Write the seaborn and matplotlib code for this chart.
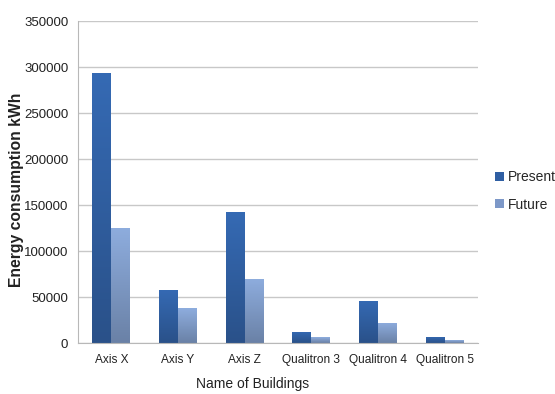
import numpy as np
import pandas as pd
import matplotlib
matplotlib.use("Agg")
import matplotlib.pyplot as plt
from matplotlib.colors import LinearSegmentedColormap
from matplotlib.patches import Patch
import seaborn as sns

buildings = ["Axis X", "Axis Y", "Axis Z", "Qualitron 3", "Qualitron 4", "Qualitron 5"]
present = [294000, 58000, 142000, 12000, 46000, 7000]
future = [125000, 38000, 70000, 6000, 22000, 3000]
series = ["Present", "Future"]
y_ticks = [0, 50000, 100000, 150000, 200000, 250000, 300000, 350000]

df = pd.DataFrame({
    "Building": buildings * 2,
    "Energy": present + future,
    "Series": [series[0]] * len(buildings) + [series[1]] * len(buildings),
})

sns.set_style("white")
plt.rcParams["font.family"] = ["Liberation Sans", "DejaVu Sans"]

# top / bottom colours of the vertical gradient for each series
grad = {
    "Present": ("#356AB4", "#2A5189"),
    "Future": ("#8EADDE", "#6A81A6"),
}
flat = {"Present": "#2F5FA3", "Future": "#7D98C8"}

fig = plt.figure(figsize=(5.55, 3.94), dpi=100)
ax = fig.add_axes([0.1405, 0.1294, 0.7205, 0.8173])

sns.barplot(data=df, x="Building", y="Energy", hue="Series", order=buildings,
            hue_order=series, palette=flat, width=0.57, ax=ax, legend=False,
            edgecolor="none", linewidth=0)

ax.set_yticks(y_ticks)
ax.set_yticklabels([str(v) for v in y_ticks])
ax.yaxis.grid(True, color="#C8C8C8", linewidth=1)
ax.set_axisbelow(True)

# replace flat fills with vertical gradients
n = len(buildings)
for i, patch in enumerate(ax.patches[: 2 * n]):
    s = series[i // n]
    top_c, bot_c = grad[s]
    cmap = LinearSegmentedColormap.from_list(s, [bot_c, top_c])
    x0, y0 = patch.get_x(), patch.get_y()
    w, h = patch.get_width(), patch.get_height()
    patch.set_facecolor("none")
    g = np.linspace(0, 1, 256).reshape(-1, 1)
    im = ax.imshow(g, cmap=cmap, origin="lower", aspect="auto",
                   extent=[x0, x0 + w, y0, y0 + h], zorder=2)
    im.set_clip_path(patch)
ax.set_xlim(-0.5, n - 0.5)
ax.set_ylim(0, 350000)

for side in ["top", "right"]:
    ax.spines[side].set_visible(False)
ax.spines["left"].set_color("#B8B8B8")
ax.spines["bottom"].set_color("#B8B8B8")

# tick marks between categories on the x axis
ax.set_xticks(range(n))
ax.set_xticklabels(buildings)
ax.set_xticks(np.arange(-0.5, n, 1.0), minor=True)
ax.tick_params(axis="x", which="major", length=0, pad=8, labelsize=8.6, colors="#222222")
ax.tick_params(axis="x", which="minor", length=5, color="#B8B8B8", width=1)
ax.tick_params(axis="y", length=4, color="#B8B8B8", labelsize=9.5, colors="#222222", pad=3)

ax.set_xlabel("Name of Buildings", fontsize=10, color="#222222")
ax.xaxis.set_label_coords(0.4375, -0.105)
ax.set_ylabel("Energy consumption kWh", fontsize=11.3, color="#222222",
              fontweight="bold")
ax.yaxis.set_label_coords(-0.135, 0.475)

handles = [Patch(facecolor=flat[s], edgecolor="none") for s in series]
ax.legend(handles, series, loc="center left", bbox_to_anchor=(1.03, 0.472),
          frameon=False, fontsize=10, handlelength=0.6, handleheight=0.6,
          handletextpad=0.3, labelspacing=0.95, borderaxespad=0)

fig.savefig("out.png", dpi=100)
